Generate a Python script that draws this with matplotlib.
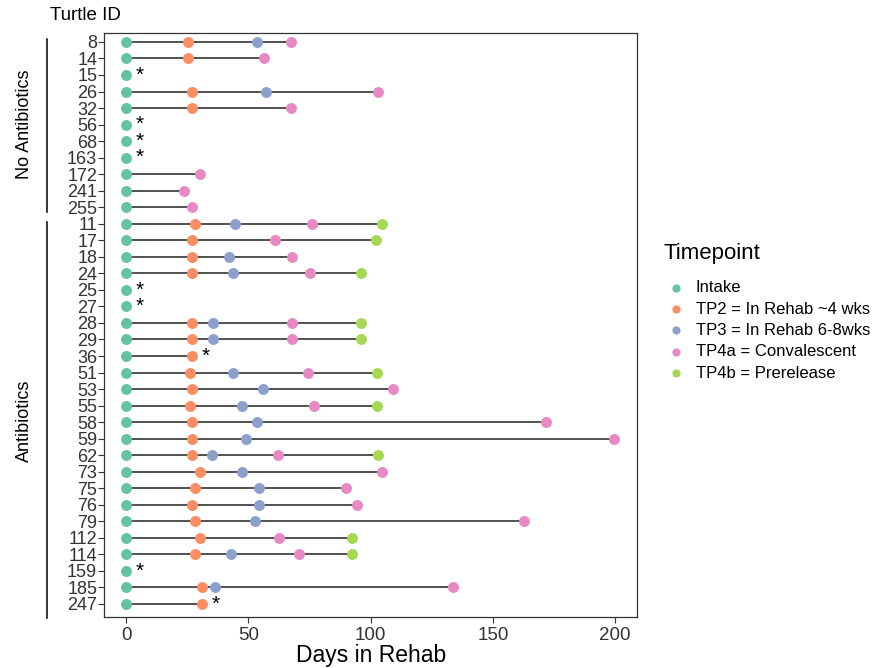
import numpy as np
import matplotlib.pyplot as plt
from matplotlib.transforms import blended_transform_factory

plt.rcParams['font.family'] = ['Liberation Sans', 'DejaVu Sans']

nan = np.nan
ids = ["8", "14", "15", "26", "32", "56", "68", "163", "172", "241", "255",
       "11", "17", "18", "24", "25", "27", "28", "29", "36", "51", "53", "55",
       "58", "59", "62", "73", "75", "76", "79", "112", "114", "159", "185", "247"]
n_noab = 11  # first 11 turtles: no antibiotics

intake = [0] * len(ids)
tp2 = [25.5, 25.5, nan, 27, 27, nan, nan, nan, nan, nan, nan,
       28, 27, 27, 27, nan, nan, 27, 27, 27, 26, 27, 26,
       27, 27, 27, 30, 28, 27, 28, 30, 28, nan, 31, 31]
tp3 = [53.5, nan, nan, 57, nan, nan, nan, nan, nan, nan, nan,
       44.5, nan, 42, 43.5, nan, nan, 35.5, 35.5, nan, 43.5, 56, 47.5,
       53.5, 49, 35, 47.5, 54.5, 54.5, 52.5, nan, 43, nan, 36.5, nan]
tp4a = [67.5, 56.5, nan, 103, 67.5, nan, nan, nan, 30, 23.5, 27,
        76, 61, 68, 75, nan, nan, 68, 68, nan, 74.5, 109, 77,
        171.5, 199.5, 62, 104.5, 90, 94.5, 162.5, 62.5, 70.5, nan, 133.5, nan]
tp4b = [nan, nan, nan, nan, nan, nan, nan, nan, nan, nan, nan,
        104.5, 102, nan, 96, nan, nan, 96, 96, nan, 102.5, nan, 102.5,
        nan, nan, 103, nan, nan, nan, nan, 92.5, 92.5, nan, nan, nan]
starred = ["15", "56", "68", "163", "25", "27", "36", "159", "247"]

labels = ["Intake", "TP2 = In Rehab ~4 wks", "TP3 = In Rehab 6-8wks",
          "TP4a = Convalescent", "TP4b = Prerelease"]
colors = ["#66c2a5", "#fc8d62", "#8da0cb", "#e78ac3", "#a6d854"]
series = [intake, tp2, tp3, tp4a, tp4b]

fig = plt.figure(figsize=(8.9, 6.68), dpi=100)
ax = fig.add_axes([0.117, 0.0763, 0.599, 0.8743])

y = np.arange(len(ids))
allv = np.array(series, dtype=float)

# lines from intake to last timepoint
for i in y:
    last = np.nanmax(allv[:, i])
    if last > 0:
        ax.plot([0, last], [i, i], color='#222222', lw=1.1, zorder=1)

for vals, c, lab in zip(series, colors, labels):
    ax.scatter(vals, y, s=62, color=c, label=lab, zorder=3, linewidths=0)

for i in y:
    if ids[i] in starred:
        last = np.nanmax(allv[:, i])
        ax.annotate("*", (last, i), xytext=(7, 0), textcoords='offset points',
                    ha='left', va='center', fontsize=15, color='black')

ax.set_xlim(-9, 209)
ax.set_ylim(34.79, -0.54)
ax.set_xticks([0, 50, 100, 150, 200])
ax.set_yticks(y)
ax.set_yticklabels(ids)
ax.tick_params(axis='both', colors='#333333', length=4, width=0.8)
ax.tick_params(axis='y', pad=1, labelsize=13)
ax.tick_params(axis='x', labelsize=13.5)
for s in ax.spines.values():
    s.set_color('#333333')
    s.set_linewidth(0.9)
ax.set_xlabel("Days in Rehab", fontsize=16.5, labelpad=0)

fig.text(0.056, 0.977, "Turtle ID", fontsize=13.5, va='center', ha='left')

# group brackets
tr = blended_transform_factory(fig.transFigure, ax.transData)
ax.plot([0.053, 0.053], [-0.18, 10.28], color='black', lw=1.1,
        transform=tr, clip_on=False)
ax.plot([0.053, 0.053], [10.9, 34.85], color='black', lw=1.1,
        transform=tr, clip_on=False)
ax.text(0.028, 5.0, "No Antibiotics", rotation=90, fontsize=13,
        ha='center', va='center', transform=tr)
ax.text(0.028, 22.9, "Antibiotics", rotation=90, fontsize=13,
        ha='center', va='center', transform=tr)

fig.text(0.745, 1 - 253 / 668, "Timepoint", fontsize=16, ha='left', va='center')
leg = ax.legend(loc='upper left', bbox_to_anchor=(0.735, 0.603),
                bbox_transform=fig.transFigure, frameon=False, fontsize=12,
                handlelength=0.8, handletextpad=0.8, labelspacing=0.38,
                markerscale=0.75)

fig.savefig("out.png", dpi=100)
